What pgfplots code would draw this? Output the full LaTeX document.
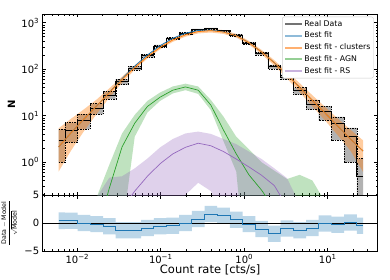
\documentclass[border=0pt]{standalone}
\usepackage{fontspec}
\setmainfont{DejaVu Sans}
\usepackage{pgfplots}
\pgfplotsset{compat=1.18}
\usepackage{pgfplotstable}
\usepgfplotslibrary{fillbetween}

\definecolor{tabblue}{HTML}{1F77B4}
\definecolor{taborange}{HTML}{FF7F0E}
\definecolor{tabgreen}{HTML}{2CA02C}
\definecolor{tabpurple}{HTML}{9467BD}
\definecolor{legblue}{HTML}{8FBBD9}
\definecolor{legorange}{HTML}{FFB070}
\definecolor{leggreen}{HTML}{95CF95}
\definecolor{legpurple}{HTML}{C9B3DE}

% model curves at bin centres
\pgfplotstableread{
x M C Clo Chi A Alo Ahi R Rlo Rhi
0.005970 2.14 2.138 0.631 5.370 0.001 0.001 0.001 0.01 0.001 0.001
0.008472 4.37 4.365 1.820 8.710 0.001 0.001 0.001 0.01 0.001 0.001
0.012023 8.51 8.511 4.677 13.80 0.001 0.001 0.001 0.01 0.001 0.001
0.017061 16.25 16.22 10.96 22.39 0.03 0.001 0.178 0.01 0.001 0.178
0.024210 31.90 31.62 24.55 38.90 0.28 0.001 0.891 0.01 0.001 0.468
0.034356 62.50 60.26 51.29 69.18 2.14 0.0316 4.169 0.1 0.001 0.501
0.048753 116.8 109.6 97.72 121.6 6.92 3.548 10.47 0.240 0.001 0.741
0.069183 202.6 186.2 169.8 204.2 15.85 11.75 20.89 0.501 0.001 1.202
0.098175 321.2 295.1 269.2 323.6 25.12 20.89 31.62 0.933 0.001 2.089
0.139316 463.6 426.6 389.0 467.7 35.48 30.20 42.66 1.514 0.063 3.162
0.197697 593.2 549.5 501.2 602.6 41.69 35.48 48.98 2.100 0.2 4.169
0.280543 683.7 645.7 588.8 707.9 35.48 29.51 42.66 2.570 0.363 4.571
0.398107 695.4 676.1 616.6 741.3 16.98 13.18 21.88 2.265 0.24 4.074
0.564937 638.0 631.0 575.4 691.8 4.898 2.818 9.550 1.698 0.063 3.162
0.801678 527.5 524.8 478.6 575.4 1.514 0.631 3.548 1.175 0.001 2.455
1.137627 372.8 371.5 338.8 407.4 0.537 0.001 1.905 0.794 0.001 1.698
1.614359 235.1 234.4 208.9 260.0 0.251 0.001 1.0 0.525 0.001 1.175
2.290868 138.4 138.0 120.2 156.7 0.1 0.001 0.661 0.316 0.001 0.741
3.250873 76.03 75.86 63.10 89.13 0.0316 0.001 0.437 0.112 0.001 0.457
4.613176 40.80 40.74 32.36 50.12 0.01 0.001 0.537 0.04 0.001 0.126
6.546362 21.38 21.38 15.85 27.54 0.001 0.001 0.407 0.01 0.001 0.0316
9.289664 11.48 11.48 7.943 15.49 0.001 0.001 0.141 0.01 0.001 0.001
13.182567 6.026 6.026 3.802 8.710 0.001 0.001 0.001 0.01 0.001 0.001
18.706821 3.162 3.162 1.778 5.012 0.001 0.001 0.001 0.01 0.001 0.001
26.546055 1.738 1.738 0.617 2.951 0.001 0.001 0.001 0.01 0.001 0.001
}\tbl

% histogram steps: first centre, bin edges, last centre
\pgfplotstableread{
x D Dlo Dhi res reslo reshi
0.005970 3.0 1.0 5.1 0.4 -1.1 1.9
0.0071121 4.9 2.69 7.11 0.4 -1.05 1.85
0.0100925 8.0 5.17 10.83 0.0 -1.45 1.45
0.0143219 14.5 10.69 18.31 -0.2 -1.65 1.25
0.0203236 28 22.71 33.29 -0.6 -2.05 0.85
0.0288403 54 46.65 61.35 -1.3 -2.75 0.15
0.0409261 106 95.7 116.3 -1.3 -2.75 0.15
0.0580764 195 181.0 209.0 -0.9 -2.35 0.55
0.0824138 315 297.3 332.7 -0.6 -2.05 0.85
0.1169499 458 436.6 479.4 -0.5 -1.95 0.95
0.1659587 592 567.7 616.3 0.0 -1.45 1.45
0.2355049 712 685.3 738.7 0.7 -0.75 2.15
0.3341950 748 720.7 775.3 1.6 0.15 3.05
0.4742420 668 642.2 693.8 1.3 -0.15 2.75
0.6729767 543 519.7 566.3 0.6 -0.85 2.05
0.9549926 366 346.9 385.1 -0.2 -1.65 1.25
1.3551893 218 203.2 232.8 -1.07 -2.52 0.38
1.9230917 113 102.4 123.6 -1.9 -3.35 -0.45
2.7289778 68 59.75 76.25 -1.0 -2.45 0.45
3.8725764 34.5 28.6 40.4 -1.3 -2.75 0.15
5.4954087 17.8 13.6 22.0 -0.9 -2.35 0.55
7.7983011 12.5 8.0 16.04 -0.1 -1.55 1.35
11.066126 6.8 3.0 9.41 -0.3 -1.75 1.15
15.703628 3.6 1.0 5.5 0.1 -1.35 1.55
22.284351 0.5 0.05 1.2 -0.5 -1.95 0.95
26.546055 0.5 0.05 1.2 -0.5 -1.95 0.95
}\steps

\begin{document}
\begin{tikzpicture}
\begin{axis}[
  name=main, at={(0pt,0pt)}, anchor=south west,
  scale only axis, width=335pt, height=181pt,
  xmode=log, ymode=log,
  xmin=0.00385, xmax=39.7, ymin=0.198, ymax=1540,
  axis line style={line width=0.8pt},
  tick style={black, line width=0.6pt},
  major tick length=3.5pt, minor tick length=2pt,
  tick label style={font=\fontsize{10}{12}\selectfont},
  xtick={0.01,0.1,1,10},
  minor xtick={0.004,0.005,0.006,0.007,0.008,0.009,0.02,0.03,0.04,0.05,0.06,0.07,0.08,0.09,0.2,0.3,0.4,0.5,0.6,0.7,0.8,0.9,2,3,4,5,6,7,8,9,20,30},
  xticklabels={},
  ytick={1,10,100,1000},
  yticklabels={10\textsuperscript{0},10\textsuperscript{1},10\textsuperscript{2},10\textsuperscript{3}},
  minor ytick={0.2,0.3,0.4,0.5,0.6,0.7,0.8,0.9,2,3,4,5,6,7,8,9,20,30,40,50,60,70,80,90,200,300,400,500,600,700,800,900},
  ylabel={\fontsize{10}{12}\selectfont\bfseries N},
  ylabel style={at={(axis description cs:-0.093,0.5)}, anchor=center},
  legend style={at={(0.988,0.985)}, anchor=north east, draw=black!20, rounded corners=2pt,
    font=\fontsize{7.8}{9}\selectfont, row sep=1.8pt, inner sep=2pt,
    nodes={inner sep=1pt, text height=6.2pt, text depth=1.8pt}},
  legend cell align=left,
]
% data band
\addplot[name path=dlo, black, line width=0.4pt, dash pattern=on 1.5pt off 1pt, const plot, forget plot] table[x=x,y=Dlo]{\steps};
\addplot[name path=dhi, black, line width=0.4pt, dash pattern=on 1.5pt off 1pt, const plot, forget plot] table[x=x,y=Dhi]{\steps};
\addplot[black, fill opacity=0.3, forget plot] fill between[of=dlo and dhi];
\addplot[black, line width=0.9pt, const plot, forget plot] table[x=x,y=D]{\steps};
% total
\addplot[tabblue, line width=0.8pt, forget plot] table[x=x,y=M]{\tbl};
% clusters
\addplot[name path=clo, draw=none, forget plot] table[x=x,y=Clo]{\tbl};
\addplot[name path=chi, draw=none, forget plot] table[x=x,y=Chi]{\tbl};
\addplot[taborange, fill opacity=0.4, forget plot] fill between[of=clo and chi];
\addplot[taborange, line width=0.8pt, forget plot] table[x=x,y=C]{\tbl};
% AGN
\addplot[name path=alo, draw=none, forget plot] table[x=x,y=Alo]{\tbl};
\addplot[name path=ahi, draw=none, forget plot] table[x=x,y=Ahi]{\tbl};
\addplot[tabgreen, fill opacity=0.3, forget plot] fill between[of=alo and ahi];
\addplot[tabgreen, line width=0.7pt, forget plot] table[x=x,y=A]{\tbl};
% RS
\addplot[name path=rlo, draw=none, forget plot] table[x=x,y=Rlo]{\tbl};
\addplot[name path=rhi, draw=none, forget plot] table[x=x,y=Rhi]{\tbl};
\addplot[tabpurple, fill opacity=0.3, forget plot] fill between[of=rlo and rhi];
\addplot[tabpurple, line width=0.7pt, forget plot] table[x=x,y=R]{\tbl};
% legend
\addlegendimage{line width=2pt, color=black!55}
\addlegendentry{Real Data}
\addlegendimage{line width=2pt, color=legblue}
\addlegendentry{Best fit}
\addlegendimage{line width=2pt, color=legorange}
\addlegendentry{Best fit - clusters}
\addlegendimage{line width=2pt, color=leggreen}
\addlegendentry{Best fit - AGN}
\addlegendimage{line width=2pt, color=legpurple}
\addlegendentry{Best fit - RS}
\end{axis}

\begin{axis}[
  name=res, at={(0pt,0pt)}, anchor=north west,
  scale only axis, width=335pt, height=56pt,
  xmode=log, xmin=0.00385, xmax=39.7,
  ymin=-5, ymax=5,
  axis line style={line width=0.8pt},
  tick style={black, line width=0.6pt},
  major tick length=3.5pt, minor tick length=2pt,
  tick label style={font=\fontsize{10}{12}\selectfont},
  xtick={0.01,0.1,1,10},
  minor xtick={0.004,0.005,0.006,0.007,0.008,0.009,0.02,0.03,0.04,0.05,0.06,0.07,0.08,0.09,0.2,0.3,0.4,0.5,0.6,0.7,0.8,0.9,2,3,4,5,6,7,8,9,20,30},
  xticklabels={10\textsuperscript{−2},10\textsuperscript{−1},10\textsuperscript{0},10\textsuperscript{1}},
  ytick={-5,0,5}, yticklabels={−5,0,5},
  xlabel={\fontsize{11.5}{13}\selectfont Count rate [cts/s]},
  xlabel style={at={(axis description cs:0.5,-0.398)}, anchor=base},
  ylabel={\fontsize{6.3}{7}\selectfont$\displaystyle\frac{\mbox{Data}-\mbox{Model}}{\sqrt{\mbox{Model}}}$},
  ylabel style={at={(axis description cs:-0.1,0.5)}, anchor=center},
]
\addplot[name path=qlo, draw=none, const plot, forget plot] table[x=x,y=reslo]{\steps};
\addplot[name path=qhi, draw=none, const plot, forget plot] table[x=x,y=reshi]{\steps};
\addplot[tabblue, fill opacity=0.3, draw=none, forget plot] fill between[of=qlo and qhi];
\addplot[black, line width=0.8pt, forget plot] coordinates {(0.00385,0) (39.7,0)};
\addplot[tabblue, line width=0.8pt, const plot, forget plot] table[x=x,y=res]{\steps};
\end{axis}
\pgfresetboundingbox
\useasboundingbox (-42.7pt,-84pt) rectangle (347.3pt,195pt);
\end{tikzpicture}
\end{document}
